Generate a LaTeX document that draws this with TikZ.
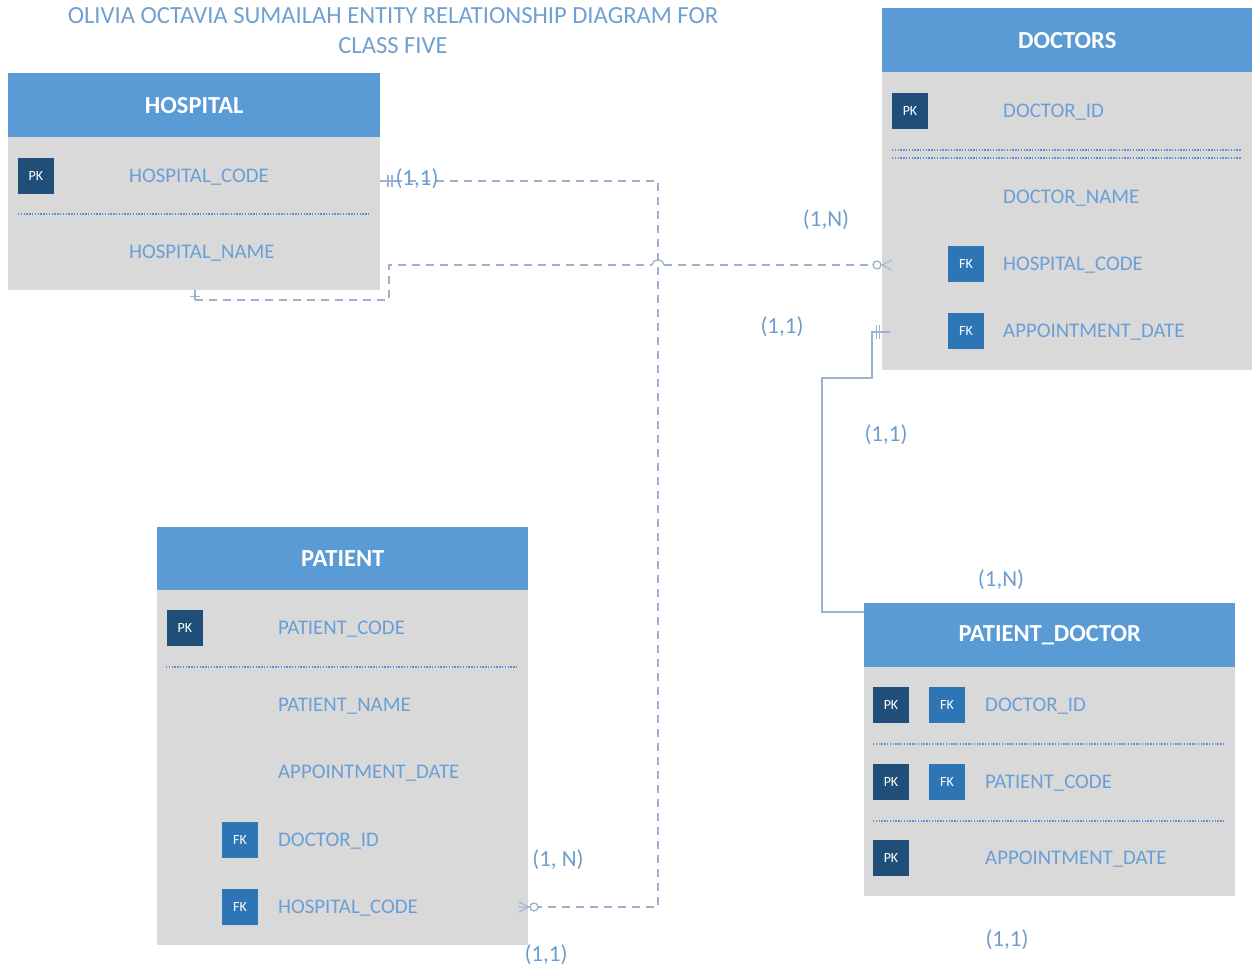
\documentclass[tikz,border=0pt]{standalone}
\usepackage{fontspec}
\setmainfont{Carlito}
\definecolor{hdrc}{HTML}{5B9BD5}
\definecolor{bodyc}{HTML}{D9D9D9}
\definecolor{attrc}{HTML}{6A9FD6}
\definecolor{pkc}{HTML}{1F4E79}
\definecolor{fkc}{HTML}{2E75B6}
\definecolor{titlec}{HTML}{6FA0D0}
\definecolor{lblc}{HTML}{6D9CCD}
\definecolor{linec}{HTML}{9CB2CE}
\definecolor{sepc}{HTML}{5B93CC}
\begin{document}
\begin{tikzpicture}[x=1pt,y=-1pt,
  hdrbox/.style={fill=hdrc, inner sep=0, anchor=north west, text=white,
    font=\fontsize{24.5}{27}\selectfont\bfseries},
  bodybox/.style={fill=bodyc, inner sep=0, anchor=north west},
  pkbox/.style={fill=pkc, text=white, minimum size=36pt, inner sep=0,
    font=\fontsize{14}{16}\selectfont},
  fkbox/.style={pkbox, fill=fkc},
  attr/.style={anchor=west, inner sep=0, text=attrc, text height=13.4pt, text depth=0pt,
    font=\fontsize{20.8}{24}\selectfont},
  lbl/.style={inner sep=0, text=lblc, font=\fontsize{23}{26}\selectfont},
  sepline/.style={draw=sepc, line width=1.1pt, dash pattern=on 1.4pt off 1.4pt},
  dashconn/.style={draw=linec, line width=1.3pt, dash pattern=on 8pt off 6pt},
  solconn/.style={draw=linec, line width=1.3pt},
  cmark/.style={draw=linec, line width=1.3pt}
]
\useasboundingbox (0,0) rectangle (1252,972);

% title
\node[text=titlec, align=center, font=\fontsize{24.6}{30}\selectfont] (title) at (393,31)
  {OLIVIA OCTAVIA SUMAILAH ENTITY RELATIONSHIP DIAGRAM FOR\\CLASS FIVE};

% HOSPITAL
\node[bodybox, minimum width=372pt, minimum height=153pt] (hb) at (8,137) {};
\node[hdrbox, minimum width=372pt, minimum height=64pt] (hh) at (8,73) {HOSPITAL};
\node[pkbox] (hpk) at (36,176) {PK};
\node[attr] (hcode) at (129,176) {HOSPITAL\_CODE};
\draw[sepline] (18,214) -- (370,214);
\node[attr] (hname) at (129,252) {HOSPITAL\_NAME};

% DOCTORS
\node[bodybox, minimum width=370pt, minimum height=298pt] (db) at (882,72) {};
\node[hdrbox, minimum width=370pt, minimum height=64pt] (dh) at (882,8) {DOCTORS};
\node[pkbox] (dpk) at (910,111) {PK};
\node[attr] (did) at (1003,111) {DOCTOR\_ID};
\draw[sepline] (892,150) -- (1242,150);
\draw[sepline] (892,158) -- (1242,158);
\node[attr] (dname) at (1003,197) {DOCTOR\_NAME};
\node[fkbox] (dfk1) at (966,264) {FK};
\node[attr] (dhcode) at (1003,264) {HOSPITAL\_CODE};
\node[fkbox] (dfk2) at (966,331) {FK};
\node[attr] (dapp) at (1003,331) {APPOINTMENT\_DATE};

% PATIENT
\node[bodybox, minimum width=371pt, minimum height=355pt] (pb) at (157,590) {};
\node[hdrbox, minimum width=371pt, minimum height=63pt] (ph) at (157,527) {PATIENT};
\node[pkbox] (ppk) at (185,628) {PK};
\node[attr] (pcode) at (278,628) {PATIENT\_CODE};
\draw[sepline] (166,667) -- (518,667);
\node[attr] (pname) at (278,705) {PATIENT\_NAME};
\node[attr] (papp) at (278,772) {APPOINTMENT\_DATE};
\node[fkbox] (pfk1) at (240,840) {FK};
\node[attr] (pdid) at (278,840) {DOCTOR\_ID};
\node[fkbox] (pfk2) at (240,907) {FK};
\node[attr] (phcode) at (278,907) {HOSPITAL\_CODE};

% PATIENT_DOCTOR
\node[bodybox, minimum width=371pt, minimum height=229pt] (qb) at (864,667) {};
\node[hdrbox, minimum width=371pt, minimum height=64pt] (qh) at (864,603) {PATIENT\_DOCTOR};
\node[pkbox] (qpk1) at (891,705) {PK};
\node[fkbox] (qfk1) at (947,705) {FK};
\node[attr] (qdid) at (985,705) {DOCTOR\_ID};
\draw[sepline] (873,744) -- (1225,744);
\node[pkbox] (qpk2) at (891,782) {PK};
\node[fkbox] (qfk2) at (947,782) {FK};
\node[attr] (qpcode) at (985,782) {PATIENT\_CODE};
\draw[sepline] (873,821) -- (1225,821);
\node[pkbox] (qpk3) at (891,858) {PK};
\node[attr] (qapp) at (985,858) {APPOINTMENT\_DATE};

% connector 1: HOSPITAL (hospital_code) -- PATIENT (hospital_code)
\coordinate (c1a) at (658,181);
\coordinate (c1b) at (658,907);
\coordinate (c1end) at (538,907);
\draw[dashconn] (hb.east |- c1a) -- (c1a) -- (c1b) -- (c1end);
\draw[cmark] (hb.east |- c1a) -- ++(14,0);
\draw[cmark] (388,175) -- (388,187);
\draw[cmark] (392,175) -- (392,187);
\draw[cmark, fill=white] (534,907) circle (4pt);
\draw[cmark, line width=1pt] (529,907) -- (519,902) (529,907) -- (519,912) (530,907) -- (518,907);

% connector 2: HOSPITAL -- DOCTORS (hospital_code)
\coordinate (c2a) at (195,300);
\coordinate (c2b) at (389,300);
\coordinate (c2c) at (389,265);
\coordinate (c2d) at (652,265);
\coordinate (c2e) at (664,265);
\coordinate (c2end) at (873,265);
\draw[cmark] (hb.south -| c2a) -- (c2a);
\draw[cmark, line width=1pt] (190,296) -- (200,296);
\draw[dashconn] (c2a) -- (c2b) -- (c2c) -- (c2d);
\draw[cmark] (c2d) .. controls (653,258) and (663,258) .. (c2e);
\draw[dashconn] (c2e) -- (c2end);
\draw[cmark, fill=white] (877,265) circle (4pt);
\draw[cmark, line width=1pt] (882,265) -- (892,260) (882,265) -- (892,270) (881,265) -- (db.west |- c2end);

% connector 3: DOCTORS (appointment_date) -- PATIENT_DOCTOR
\coordinate (c3a) at (872,332);
\coordinate (c3b) at (872,378);
\coordinate (c3c) at (822,378);
\coordinate (c3d) at (822,612);
\draw[solconn] (890,332) -- (c3a) -- (c3b) -- (c3c) -- (c3d) -- (qh.west |- c3d);
\draw[cmark, line width=1pt] (876,325) -- (876,339) (879,325) -- (879,339);

% cardinality labels
\node[lbl] (l1) at (417,179) {(1,1)};
\node[lbl] (l2) at (826,220) {(1,N)};
\node[lbl] (l3) at (782,327) {(1,1)};
\node[lbl] (l4) at (886,435) {(1,1)};
\node[lbl] (l5) at (1001,580) {(1,N)};
\node[lbl] (l6) at (558,860) {(1, N)};
\node[lbl] (l7) at (546,955) {(1,1)};
\node[lbl] (l8) at (1007,940) {(1,1)};
\end{tikzpicture}
\end{document}
